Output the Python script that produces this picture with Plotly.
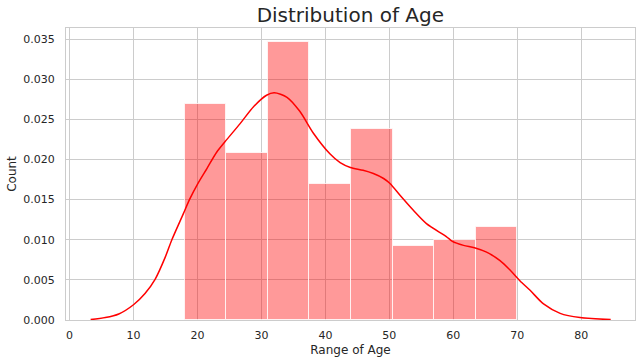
import plotly.graph_objects as go

# Histogram (density) bins
bin_left = [18.0, 24.5, 31.0, 37.5, 44.0, 50.5, 57.0, 63.5]
bin_width = 6.5
bar_density = [0.026923, 0.020769, 0.034615, 0.016923, 0.023846, 0.009231, 0.010000, 0.011538]

# KDE curve points
kde_x = [3.3, 5.6, 7.7, 10.0, 11.8, 13.4, 14.95, 16.0, 17.8, 18.75, 20.06, 21.5, 23.0, 24.3,
         26.7, 28.8, 30.8, 32.0, 34.0, 36.0, 38.1, 40.7, 42.3, 43.9, 45.9, 47.5, 49.1, 50.1,
         51.7, 53.75, 55.8, 58.9, 59.85, 61.6, 63.3, 65.2, 67.3, 68.9, 70.4, 72.0, 74.1,
         76.7, 79.8, 84.6]
kde_y = [0.00005, 0.0003, 0.00075, 0.0019, 0.0033, 0.0051, 0.0078, 0.0100, 0.01325, 0.0150,
         0.0170, 0.0189, 0.0209, 0.0222, 0.0245, 0.0266, 0.0280, 0.0283, 0.02775, 0.0260,
         0.0233, 0.0207, 0.0196, 0.0190, 0.01866, 0.01825, 0.01763, 0.0170, 0.0155, 0.01366,
         0.0120, 0.0104, 0.0098, 0.0093, 0.0090, 0.00845, 0.0074, 0.0062, 0.0049, 0.0037,
         0.0020, 0.00083, 0.0003, 0.00005]

x_ticks = [0, 10, 20, 30, 40, 50, 60, 70, 80]
y_ticks = [0.000, 0.005, 0.010, 0.015, 0.020, 0.025, 0.030, 0.035]

fig = go.Figure()
fig.add_trace(go.Bar(
    x=bin_left, y=bar_density, width=[bin_width] * len(bin_left), offset=0,
    marker=dict(color="rgba(255,0,0,0.4)", line=dict(color="rgba(255,255,255,0.75)", width=1)),
    showlegend=False, hoverinfo="skip",
))
fig.add_trace(go.Scatter(
    x=kde_x, y=kde_y, mode="lines",
    line=dict(color="red", width=1.5, shape="spline", smoothing=0.8),
    showlegend=False,
))

font_family = "DejaVu Sans"
fig.update_layout(
    width=641, height=363,
    margin=dict(l=66, r=6, t=28, b=43),
    paper_bgcolor="white", plot_bgcolor="white",
    font=dict(family=font_family, color="#262626", size=11),
    bargap=0,
    title=dict(text="Distribution of Age", x=0.5465, xanchor="center", y=0.94, yanchor="bottom",
               font=dict(size=20, color="#262626", family=font_family)),
)
fig.update_xaxes(
    automargin=False,
    range=[-0.55, 88.4], tickvals=x_ticks, ticktext=[str(v) for v in x_ticks],
    showgrid=True, gridcolor="#cccccc", gridwidth=1, zeroline=False,
    showline=True, linecolor="#cccccc", linewidth=1.25, mirror=True,
    ticks="outside", ticklen=5, tickcolor="rgba(0,0,0,0)",
    title=dict(text="Range of Age", font=dict(size=12, color="#262626"), standoff=4),
)
fig.update_yaxes(
    automargin=False,
    range=[0, 0.03638], tickvals=y_ticks, ticktext=["%.3f" % v for v in y_ticks],
    showgrid=True, gridcolor="#cccccc", gridwidth=1, zeroline=False,
    showline=True, linecolor="#cccccc", linewidth=1.25, mirror=True,
    ticks="outside", ticklen=8, tickcolor="rgba(0,0,0,0)",
    title=dict(text="Count", font=dict(size=12, color="#262626"), standoff=3),
)

fig.write_html("out.html", config={"displayModeBar": False},
               post_script="document.body.style.margin='0px';document.body.style.overflow='hidden';")
